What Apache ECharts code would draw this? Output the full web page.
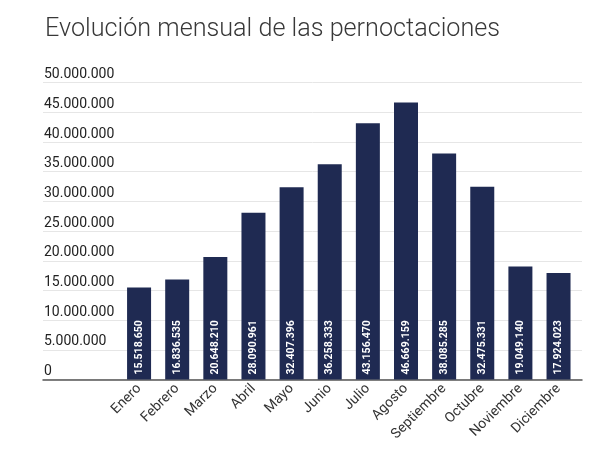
<!DOCTYPE html>
<html>
<head>
<meta charset="utf-8">
<script src="https://cdn.jsdelivr.net/npm/echarts@6/dist/echarts.min.js"></script>
<style>html,body{margin:0;padding:0;background:#fff;}#c{width:600px;height:460px;}</style>
</head>
<body>
<div id="c"></div>
<script>
var months = ['Enero','Febrero','Marzo','Abril','Mayo','Junio','Julio','Agosto','Septiembre','Octubre','Noviembre','Diciembre'];
var pernoctaciones = [15518650,16836535,20648210,28090961,32407396,36258333,43156470,46669159,38085285,32475331,19049140,17924023];
var yMin = 0, yMax = 50000000, yStep = 5000000;

function fmt(v){ return String(Math.round(v)).replace(/\B(?=(\d{3})+(?!\d))/g,'.'); }

var chart = echarts.init(document.getElementById('c'), null, {renderer:'canvas'});
chart.setOption({
  animation:false,
  backgroundColor:'#fff',
  title:{
    text:'Evolución mensual de las pernoctaciones',
    left:40, top:12,
    textStyle:{fontFamily:'Roboto', fontWeight:300, fontSize:25.2, color:'#383838'}
  },
  grid:[
    {left:43, right:18, top:82.7, bottom:80.5},
    {left:120, right:22.4, top:82.7, bottom:80.5}
  ],
  xAxis:[
    {gridIndex:0, type:'category', data:[''], axisLine:{show:true, lineStyle:{color:'#555', width:1.5}}, axisTick:{show:false}, axisLabel:{show:false}},
    {gridIndex:1, type:'category', data:months, axisLine:{show:false}, axisTick:{show:false},
     axisLabel:{rotate:45, interval:0, margin:7, fontFamily:'Roboto', fontSize:14, color:'#333'}}
  ],
  yAxis:[
    {gridIndex:0, type:'value', min:yMin, max:yMax, interval:yStep,
     axisLine:{show:false}, axisTick:{show:false},
     splitLine:{lineStyle:{color:'#e6e6e6', width:1}},
     axisLabel:{inside:true, margin:1, verticalAlign:'bottom', padding:[0,0,1,0], fontFamily:'Roboto', fontSize:14, color:'#222', formatter:fmt}},
    {gridIndex:1, type:'value', min:yMin, max:yMax, interval:yStep, show:false, splitLine:{show:false}}
  ],
  series:[{
    type:'bar', xAxisIndex:1, yAxisIndex:1, data:pernoctaciones, barWidth:24,
    itemStyle:{color:'#1f2a52'},
    label:{show:true, position:'insideBottom', rotate:90, align:'left', verticalAlign:'middle', distance:5,
      fontFamily:'Roboto', fontWeight:'bold', fontSize:10.5, color:'#fff', formatter:function(p){return fmt(p.value);}}
  }]
});
</script>
</body>
</html>
